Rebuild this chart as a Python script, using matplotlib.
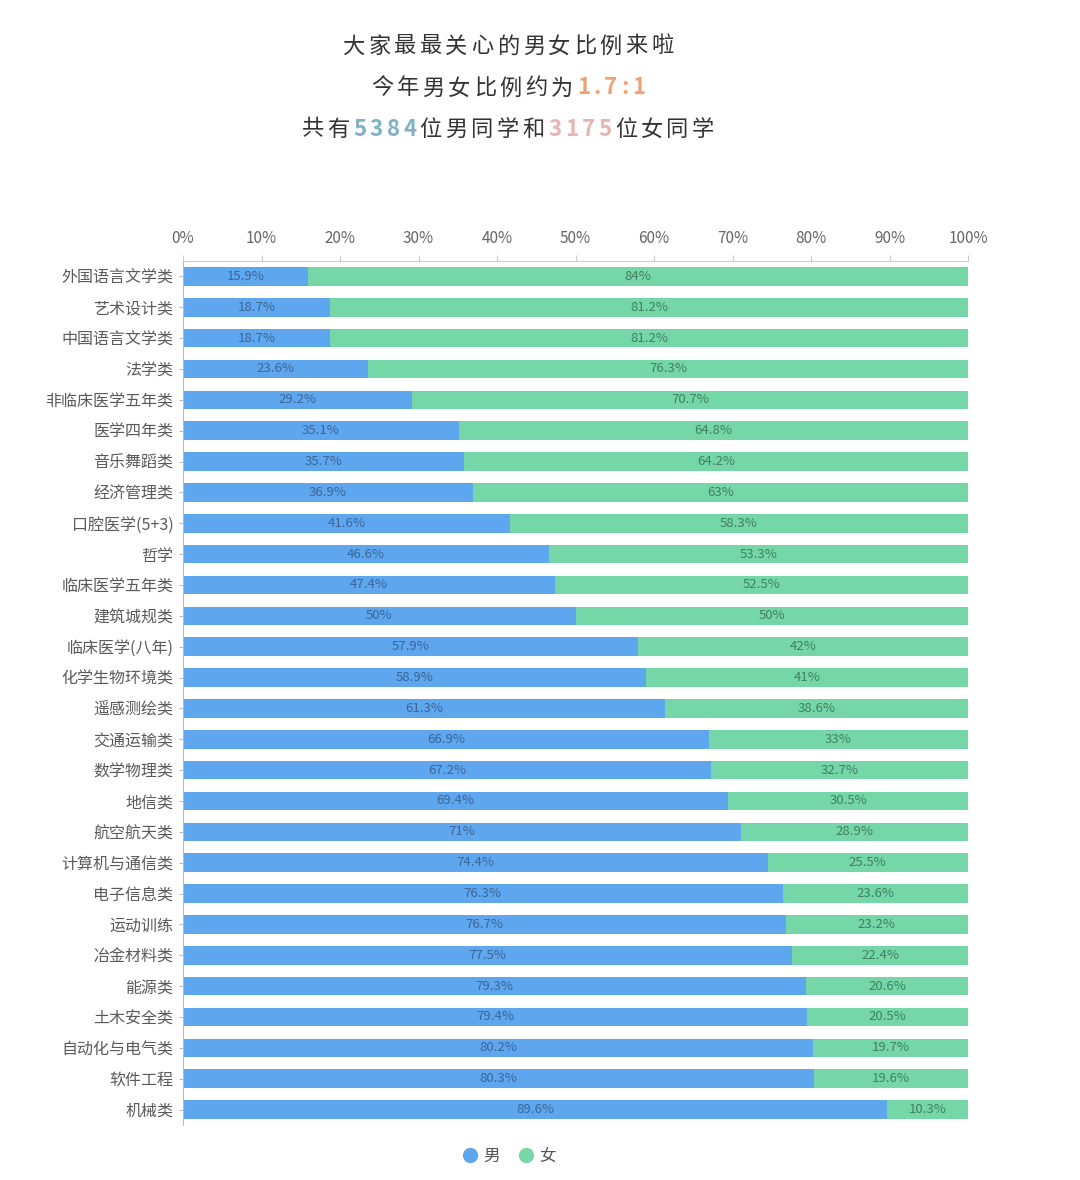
import matplotlib.pyplot as plt
from matplotlib.offsetbox import TextArea, HPacker, AnnotationBbox
import numpy as np

plt.rcParams['font.family'] = ['Noto Sans CJK SC', 'DejaVu Sans']

# data (percent)
majors = ['外国语言文学类', '艺术设计类', '中国语言文学类', '法学类', '非临床医学五年类',
          '医学四年类', '音乐舞蹈类', '经济管理类', '口腔医学(5+3)', '哲学',
          '临床医学五年类', '建筑城规类', '临床医学(八年)', '化学生物环境类', '遥感测绘类',
          '交通运输类', '数学物理类', '地信类', '航空航天类', '计算机与通信类',
          '电子信息类', '运动训练', '冶金材料类', '能源类', '土木安全类',
          '自动化与电气类', '软件工程', '机械类']
male = [15.9, 18.7, 18.7, 23.6, 29.2, 35.1, 35.7, 36.9, 41.6, 46.6,
        47.4, 50, 57.9, 58.9, 61.3, 66.9, 67.2, 69.4, 71, 74.4,
        76.3, 76.7, 77.5, 79.3, 79.4, 80.2, 80.3, 89.6]
female = [84, 81.2, 81.2, 76.3, 70.7, 64.8, 64.2, 63, 58.3, 53.3,
          52.5, 50, 42, 41, 38.6, 33, 32.7, 30.5, 28.9, 25.5,
          23.6, 23.2, 22.4, 20.6, 20.5, 19.7, 19.6, 10.3]
xticks = [0, 10, 20, 30, 40, 50, 60, 70, 80, 90, 100]

BLUE = '#5ea6ee'
GREEN = '#75d6a8'

m = np.array(male)
f = np.array(female)
tot = m + f
m_pct = m / tot * 100
f_pct = f / tot * 100

fig = plt.figure(figsize=(10.8, 11.8), dpi=100)
ax = fig.add_axes([183 / 1080, 1 - 1125 / 1180, 785 / 1080, 864 / 1180])

y = np.arange(len(majors))
ax.barh(y, m_pct, height=0.6, color=BLUE, label='男')
ax.barh(y, f_pct, left=m_pct, height=0.6, color=GREEN, label='女')

for i in range(len(majors)):
    ax.text(m_pct[i] / 2, i, '%g%%' % male[i], ha='center', va='center',
            fontsize=9.5, color='#3b6596')
    ax.text(m_pct[i] + f_pct[i] / 2, i, '%g%%' % female[i], ha='center', va='center',
            fontsize=9.5, color='#3f8062')

ax.set_xlim(0, 100)
ax.set_ylim(len(majors) - 0.5, -0.5)
ax.set_yticks(y)
ax.set_yticklabels(majors, fontsize=11.5, color='#5a5a5a')
ax.set_xticks(xticks)
ax.set_xticklabels(['%d%%' % t for t in xticks], fontsize=11, color='#666666')
ax.xaxis.tick_top()
ax.tick_params(axis='x', length=4, color='#cccccc', pad=6)
ax.tick_params(axis='y', length=3, color='#bbbbbb', pad=4)
for s in ['right', 'bottom']:
    ax.spines[s].set_visible(False)
ax.spines['top'].set_color('#cccccc')
ax.spines['left'].set_color('#bbbbbb')


def title_line(parts, yfig):
    boxes = []
    for txt, col, bold in parts:
        for ch in txt:
            boxes.append(TextArea(ch, textprops=dict(fontsize=16, color=col,
                                                     fontweight='bold' if bold else 'normal')))
    pack = HPacker(children=boxes, align='baseline', pad=0, sep=2.5)
    ab = AnnotationBbox(pack, (508 / 1080, yfig), xycoords='figure fraction',
                        frameon=False, box_alignment=(0.5, 0.5))
    fig.add_artist(ab)


DARK = '#333333'
title_line([('大家最最关心的男女比例来啦', DARK, False)], 1 - 46 / 1180)
title_line([('今年男女比例约为', DARK, False), ('1.7:1', '#f0a172', True)], 1 - 88 / 1180)
title_line([('共有', DARK, False), ('5384', '#7fb1c9', True), ('位男同学和', DARK, False),
            ('3175', '#ebb3b0', True), ('位女同学', DARK, False)], 1 - 129 / 1180)

handles = [plt.Line2D([], [], marker='o', linestyle='', markersize=10, color=BLUE),
           plt.Line2D([], [], marker='o', linestyle='', markersize=10, color=GREEN)]
fig.legend(handles, ['男', '女'], loc='center', bbox_to_anchor=(508 / 1080, 1 - 1156 / 1180),
           ncol=2, frameon=False, fontsize=12, handletextpad=0.2, columnspacing=1.0,
           handlelength=1.2, labelcolor='#555555')

fig.savefig('out.png', dpi=100, facecolor='white')
